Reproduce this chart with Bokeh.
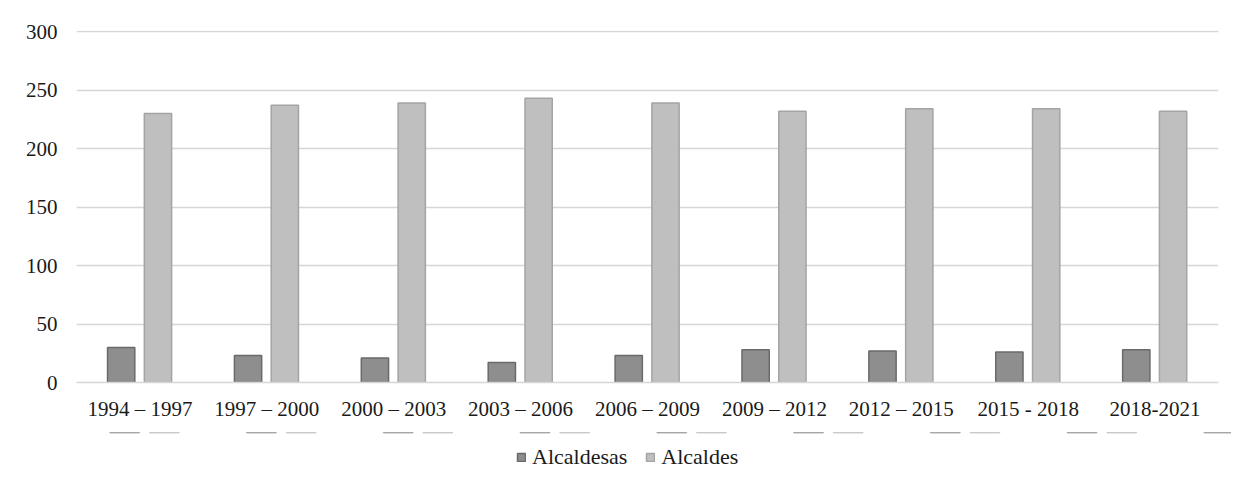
from bokeh.plotting import figure
from bokeh.layouts import column
from bokeh.models import ColumnDataSource, FactorRange, Range1d, FixedTicker, Legend, LegendItem
from bokeh.transform import dodge
from bokeh.embed import file_html
from bokeh.resources import INLINE

periods = ["1994 – 1997", "1997 – 2000", "2000 – 2003", "2003 – 2006", "2006 – 2009",
           "2009 – 2012", "2012 – 2015", "2015 - 2018", "2018-2021"]
alcaldesas = [30, 23, 21, 17, 23, 28, 27, 26, 28]
alcaldes = [230, 237, 239, 243, 239, 232, 234, 234, 232]
y_ticks = [0, 50, 100, 150, 200, 250, 300]

src = ColumnDataSource(dict(period=periods, alcaldesas=alcaldesas, alcaldes=alcaldes))

FONT = "Liberation Serif"
DARK = dict(fill_color="#8e8e8e", line_color="#6a6a6a", line_width=1.5)
LIGHT = dict(fill_color="#bfbfbf", line_color="#a4a4a4", line_width=1.5)

p = figure(x_range=FactorRange(*periods), y_range=Range1d(0, 301),
           frame_width=1142, frame_height=352, output_backend="svg", toolbar_location=None,
           min_border_left=76, min_border_right=13, min_border_top=30, min_border_bottom=50)

p.vbar(x=dodge("period", -0.148, range=p.x_range), top="alcaldesas", width=0.215,
       source=src, **DARK)
p.vbar(x=dodge("period", 0.142, range=p.x_range), top="alcaldes", width=0.215,
       source=src, **LIGHT)

p.outline_line_color = None
p.xgrid.grid_line_color = None
p.ygrid.grid_line_color = "#d6d6d6"
p.ygrid.grid_line_width = 1.5
p.yaxis.ticker = FixedTicker(ticks=y_ticks)
p.yaxis.axis_line_color = None
p.yaxis.major_tick_line_color = None
p.yaxis.minor_tick_line_color = None
p.yaxis.major_label_standoff = 13
p.yaxis.major_label_text_font_size = "21px"
p.xaxis.axis_line_color = "#d6d6d6"
p.xaxis.axis_line_width = 1.5
p.xaxis.major_tick_line_color = None
p.xaxis.major_label_standoff = 8
p.xaxis.major_label_text_font_size = "21px"
for ax in (p.xaxis, p.yaxis):
    ax.major_label_text_font = FONT
    ax.major_label_text_color = "#1a1a1a"

# legend strip below the chart (its copies of the bars lie above its view)
p2 = figure(x_range=p.x_range, y_range=Range1d(-1000, -500),
            frame_width=1231, frame_height=48, min_border=0,
            x_axis_location=None, y_axis_location=None,
            output_backend="svg", toolbar_location=None)
p2.outline_line_color = None
p2.grid.visible = False
l1 = p2.vbar(x=dodge("period", -0.148, range=p2.x_range), top="alcaldesas", width=0.215,
             source=src, **DARK)
l2 = p2.vbar(x=dodge("period", 0.142, range=p2.x_range), top="alcaldes", width=0.215,
             source=src, **LIGHT)

legend = Legend(items=[LegendItem(label="Alcaldesas", renderers=[l1]),
                       LegendItem(label="Alcaldes", renderers=[l2])],
                orientation="horizontal", location=(516, 10),
                label_text_font=FONT, label_text_font_size="22px", label_text_color="#1a1a1a",
                glyph_width=10, glyph_height=10, label_standoff=6, spacing=18,
                border_line_color=None, background_fill_alpha=0, margin=0, padding=2)
p2.add_layout(legend, "center")

layout = column(p, p2, spacing=0)
open("out.html", "w").write(file_html(layout, INLINE))
